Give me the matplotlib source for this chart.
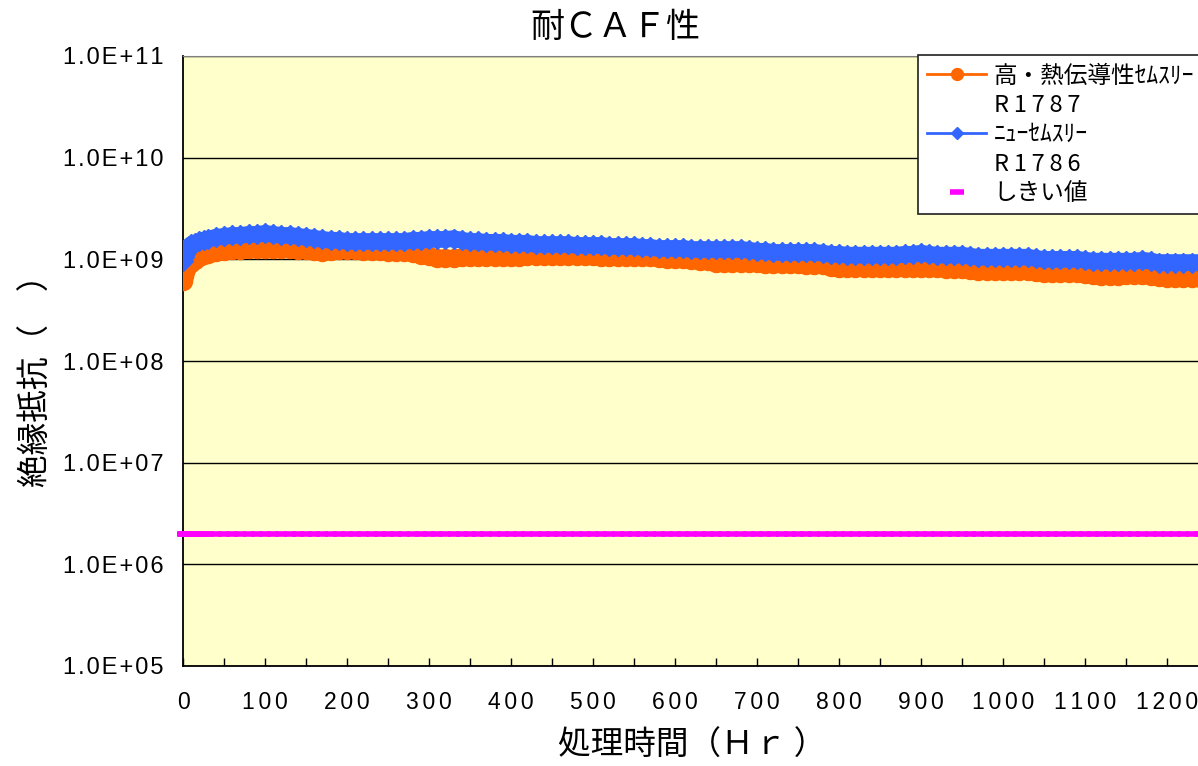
import numpy as np
import matplotlib
matplotlib.use('Agg')
import matplotlib.pyplot as plt
from matplotlib.lines import Line2D
from matplotlib.ticker import FixedLocator, FuncFormatter, MultipleLocator, NullLocator

# sample times (Hr)
hours = [0, 1, 2, 3, 5, 7, 10, 15, 20, 25, 30,
         40, 50, 60, 70, 80, 90, 100, 110, 120, 130,
         140, 150, 160, 170, 180, 190, 200, 210, 220, 230,
         240, 250, 260, 270, 280, 290, 300, 310, 320, 330,
         340, 350, 360, 370, 380, 390, 400, 410, 420, 430,
         440, 450, 460, 470, 480, 490, 500, 510, 520, 530,
         540, 550, 560, 570, 580, 590, 600, 610, 620, 630,
         640, 650, 660, 670, 680, 690, 700, 710, 720, 730,
         740, 750, 760, 770, 780, 790, 800, 810, 820, 830,
         840, 850, 860, 870, 880, 890, 900, 910, 920, 930,
         940, 950, 960, 970, 980, 990, 1000, 1010, 1020, 1030,
         1040, 1050, 1060, 1070, 1080, 1090, 1100, 1110, 1120, 1130,
         1140, 1150, 1160, 1170, 1180, 1190, 1200, 1210, 1220, 1230,
         1240]

# insulation resistance, x1E9 ohm
r1787 = [0.61, 0.68, 0.75, 0.80, 0.85, 0.89, 0.91, 0.98, 1.05, 1.10, 1.12,
         1.17, 1.20, 1.23, 1.23, 1.25, 1.25, 1.25, 1.25, 1.25, 1.25,
         1.23, 1.23, 1.20, 1.17, 1.20, 1.23, 1.23, 1.23, 1.20, 1.20,
         1.20, 1.17, 1.17, 1.17, 1.15, 1.10, 1.07, 1.02, 1.02, 1.02,
         1.05, 1.05, 1.05, 1.05, 1.05, 1.05, 1.05, 1.05, 1.07, 1.07,
         1.07, 1.07, 1.07, 1.07, 1.07, 1.07, 1.07, 1.05, 1.05, 1.05,
         1.05, 1.05, 1.05, 1.05, 1.02, 1.00, 1.00, 1.00, 0.98, 0.96,
         0.96, 0.93, 0.93, 0.93, 0.93, 0.93, 0.91, 0.89, 0.89, 0.89,
         0.89, 0.89, 0.87, 0.87, 0.87, 0.85, 0.83, 0.83, 0.83, 0.83,
         0.83, 0.83, 0.83, 0.83, 0.82, 0.82, 0.82, 0.82, 0.82, 0.80,
         0.80, 0.80, 0.78, 0.76, 0.76, 0.76, 0.76, 0.76, 0.76, 0.76,
         0.75, 0.73, 0.73, 0.73, 0.73, 0.73, 0.71, 0.70, 0.68, 0.68,
         0.68, 0.70, 0.70, 0.70, 0.68, 0.67, 0.65, 0.65, 0.65, 0.65,
         0.65]

r1786 = [0.96, 1.05, 1.12, 1.20, 1.28, 1.34, 1.40, 1.44, 1.50, 1.54, 1.57,
         1.65, 1.68, 1.72, 1.72, 1.76, 1.76, 1.80, 1.76, 1.72, 1.72,
         1.68, 1.65, 1.61, 1.57, 1.54, 1.54, 1.50, 1.50, 1.50, 1.50,
         1.50, 1.50, 1.50, 1.50, 1.54, 1.54, 1.57, 1.57, 1.57, 1.60,
         1.54, 1.50, 1.50, 1.47, 1.47, 1.47, 1.44, 1.44, 1.44, 1.40,
         1.40, 1.40, 1.40, 1.40, 1.37, 1.37, 1.37, 1.37, 1.34, 1.34,
         1.34, 1.34, 1.31, 1.31, 1.28, 1.28, 1.28, 1.28, 1.25, 1.25,
         1.25, 1.25, 1.25, 1.25, 1.25, 1.23, 1.20, 1.20, 1.17, 1.17,
         1.17, 1.17, 1.17, 1.17, 1.15, 1.12, 1.12, 1.10, 1.10, 1.10,
         1.10, 1.10, 1.10, 1.10, 1.12, 1.12, 1.15, 1.12, 1.10, 1.10,
         1.10, 1.10, 1.07, 1.05, 1.05, 1.05, 1.05, 1.05, 1.05, 1.05,
         1.02, 1.00, 1.00, 1.00, 1.00, 1.00, 0.98, 0.96, 0.96, 0.96,
         0.96, 0.96, 0.96, 0.98, 0.96, 0.93, 0.93, 0.93, 0.93, 0.93,
         0.93]

threshold = 2.0e6

ylabels_exp = [5, 6, 7, 8, 9, 10, 11]

W, H = 1198, 766
cjk = ['Noto Sans CJK JP', 'DejaVu Sans']
latin = ['Liberation Sans', 'DejaVu Sans']

fig = plt.figure(figsize=(W / 100, H / 100), dpi=100)
ax = fig.add_axes([183 / W, 100 / H, 1300 * 0.82 / W, 610 / H])
ax.set_facecolor('#FFFFCC')

t = np.array(hours)
ax.plot(t, np.array(r1787) * 1e9, '-o', color='#FF6600', mec='#FF6600',
        ms=13, lw=12, solid_capstyle='round', zorder=3)
ax.plot(t, np.array(r1786) * 1e9, '-D', color='#3366FF', mec='#3366FF',
        ms=10, lw=12, solid_capstyle='round', zorder=4)
ax.plot(t, np.full(len(t), threshold), ls='none', marker='_', ms=8, mew=4,
        color='#FF00FF', clip_on=False, zorder=5)

ax.set_yscale('log')
ax.set_ylim(1e5, 1e11)
ax.set_xlim(0, 1300)

ax.yaxis.set_major_locator(FixedLocator([10.0 ** e for e in ylabels_exp]))
ax.yaxis.set_minor_locator(NullLocator())
ax.yaxis.set_major_formatter(FuncFormatter(
    lambda v, p: '\u200a'.join('1.0E+%02d' % int(round(np.log10(v))))))
ax.xaxis.set_major_locator(MultipleLocator(100))
ax.xaxis.set_minor_locator(MultipleLocator(50))
ax.xaxis.set_major_formatter(FuncFormatter(
    lambda v, p: '\u2006'.join(str(int(round(v))))))

ax.tick_params(axis='x', which='both', direction='in', length=6, width=1,
               pad=18, labelsize=16.5)
ax.tick_params(axis='y', which='both', length=0, pad=14, labelsize=17)
for lab in ax.get_xticklabels() + ax.get_yticklabels():
    lab.set_family(latin)

ax.yaxis.grid(True, which='major', color='black', lw=1)
ax.set_axisbelow(True)
ax.spines['top'].set_color('#808080')
ax.spines['right'].set_visible(False)
ax.spines['left'].set_linewidth(1.3)
ax.spines['bottom'].set_linewidth(1.3)

fig.text(615 / W, 1 - 27 / H, '耐ＣＡＦ性', ha='center', va='center',
         fontsize=24.5, family=cjk)
fig.text(37 / W, 1 - 373 / H, '絶縁抵抗（　）', ha='center', va='center',
         rotation=90, fontsize=23.5, family=cjk)
fig.text(692 / W, 1 - 746 / H, '処理時間（Ｈｒ ）', ha='center', va='center',
         fontsize=23.5, family=cjk)

handles = [
    Line2D([], [], color='#FF6600', marker='o', ms=8.5, lw=2),
    Line2D([], [], ls='none'),
    Line2D([], [], color='#3366FF', marker='D', ms=6.5, lw=2),
    Line2D([], [], ls='none'),
    Line2D([], [], ls='none', marker='_', ms=10, mew=4, color='#FF00FF'),
]
labels = ['高・熱伝導性ｾﾑｽﾘｰ', '\u2009'.join('R1787'), 'ﾆｭｰｾﾑｽﾘｰ',
          '\u2009'.join('R1786'), 'しきい値']
leg = fig.legend(handles, labels, loc='upper left',
                 bbox_to_anchor=(918 / W, 1 - 55 / H), borderaxespad=0,
                 prop={'family': cjk, 'size': 17}, frameon=True, fancybox=False,
                 edgecolor='#202020', framealpha=1, handlelength=2.5,
                 handletextpad=0.3, labelspacing=0.27, borderpad=0.4)
leg.get_frame().set_linewidth(1.2)

fig.savefig('out.png', dpi=100)
